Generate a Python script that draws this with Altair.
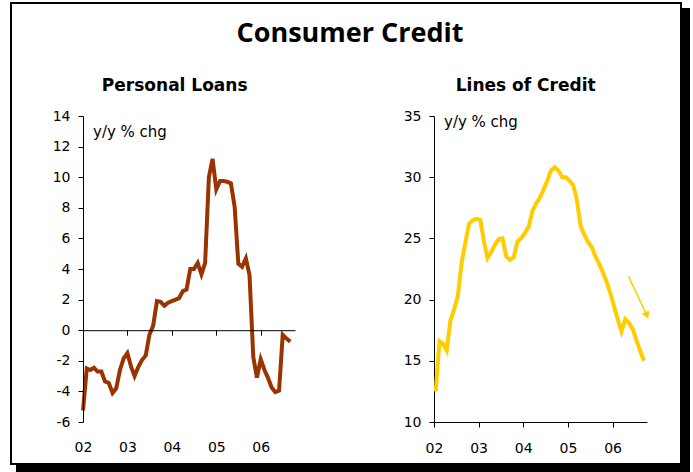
import altair as alt
import pandas as pd

# ---------------- data ----------------
loan_months = pd.date_range("2002-01-01", periods=57, freq="MS")
loc_months = loan_months + pd.Timedelta(days=14)

personal_loans = [
    -5.25, -2.5, -2.6, -2.45, -2.7, -2.7, -3.35, -3.45, -4.1, -3.8,
    -2.6, -1.85, -1.5, -2.4, -3.0, -2.4, -1.95, -1.65, -0.3, 0.3,
    1.9, 1.85, 1.6, 1.8, 1.9, 2.0, 2.1, 2.55, 2.65, 4.0,
    4.0, 4.4, 3.65, 4.4, 10.0, 11.2, 9.2, 9.75, 9.75, 9.7,
    9.6, 8.05, 4.35, 4.15, 4.7, 3.6, -1.75, -3.1, -1.9, -2.6,
    -3.1, -3.75, -4.05, -3.95, -0.3, -0.55, -0.75,
]

lines_of_credit = [
    12.5, 16.6, 16.4, 15.85, 18.3, 19.2, 20.3, 23.0, 24.7, 26.2,
    26.5, 26.6, 26.5, 24.7, 23.4, 23.9, 24.5, 24.95, 25.0, 23.55,
    23.25, 23.45, 24.75, 25.0, 25.45, 25.95, 27.2, 27.85, 28.3, 28.95,
    29.7, 30.55, 30.8, 30.55, 30.0, 30.0, 29.7, 29.3, 28.15, 26.0,
    25.3, 24.7, 24.3, 23.5, 22.9, 22.2, 21.4, 20.5, 19.4, 18.3,
    17.4, 18.4, 18.1, 17.6, 16.7, 15.8, 15.0,
]

year_ticks = [2002, 2003, 2004, 2005, 2006]
loan_ticks = [-6, -4, -2, 0, 2, 4, 6, 8, 10, 12, 14]
loc_ticks = [10, 15, 20, 25, 30, 35]

main_title = "Consumer Credit"
left_title = "Personal Loans"
right_title = "Lines of Credit"
unit_label = "y/y % chg"

arrow = pd.DataFrame({
    "x": ["2006-05-11"], "y": [21.9],
    "x2": ["2006-10-05"], "y2": [18.8],
})

# ---------------- styling ----------------
BROWN = "#993300"
YELLOW = "#FFCC00"
FONT = "DejaVu Sans"

left_df = pd.DataFrame({"month": loan_months, "value": personal_loans})
right_df = pd.DataFrame({"month": loc_months, "value": lines_of_credit})

x_domain = [alt.DateTime(year=2002, month=1, date=1),
            alt.DateTime(year=2006, month=10, date=10)]
x_values = [alt.DateTime(year=y, month=1, date=1) for y in year_ticks]

one = alt.Data(values=[{}])

W_L, W_R, H = 212, 213, 306

# ---- decoration (frame with shadow, titles), placed in the left panel ----
bg = alt.Chart(one).mark_rect(fill="white").encode(
    x=alt.value(-83), x2=alt.value(610), y=alt.value(-116), y2=alt.value(356))
shadow = alt.Chart(one).mark_rect(fill="black").encode(
    x=alt.value(-67), x2=alt.value(607), y=alt.value(-108), y2=alt.value(356))
frame = alt.Chart(one).mark_rect(fill="white", stroke="black", strokeWidth=2).encode(
    x=alt.value(-72), x2=alt.value(598), y=alt.value(-113), y2=alt.value(348))
title_txt = alt.Chart(one).mark_text(
    text=main_title, font="Open Sans", fontSize=27, fontWeight="bold",
    align="center", baseline="alphabetic", color="black").encode(
    x=alt.value(267), y=alt.value(-74.3))


def subtitle(txt):
    return alt.Chart(one).mark_text(
        text=txt, font=FONT, fontSize=17, fontWeight="bold",
        align="center", baseline="alphabetic", color="black").encode(
        x=alt.value(91.7), y=alt.value(-25.3))


def unit(ypos):
    return alt.Chart(one).mark_text(
        text=unit_label, font=FONT, fontSize=15, align="left",
        baseline="middle", color="black").encode(
        x=alt.value(10), y=alt.value(ypos))


left_line = alt.Chart(left_df).mark_line(color=BROWN, strokeWidth=4).encode(
    x=alt.X("month:T", title=None,
            scale=alt.Scale(domain=x_domain),
            axis=alt.Axis(values=x_values, format="%y", offset=-H * 6 / 20,
                          tickSize=5, labelPadding=105, zindex=1,
                          labelAlign="center")),
    y=alt.Y("value:Q", title=None,
            scale=alt.Scale(domain=[-6, 14], nice=False),
            axis=alt.Axis(values=loan_ticks, tickSize=5, labelPadding=8,
                          zindex=1, labelExpr="'' + datum.value")),
)

left = alt.layer(
    bg, shadow, frame, title_txt, subtitle(left_title), unit(15.7), left_line
).properties(width=W_L, height=H)

right_line = alt.Chart(right_df).mark_line(color=YELLOW, strokeWidth=4).encode(
    x=alt.X("month:T", title=None,
            scale=alt.Scale(domain=x_domain),
            axis=alt.Axis(values=x_values, format="%y", tickSize=5,
                          labelPadding=14, labelAlign="center")),
    y=alt.Y("value:Q", title=None,
            scale=alt.Scale(domain=[10, 35], nice=False),
            axis=alt.Axis(values=loc_ticks, tickSize=5, labelPadding=8)),
)

arrow_line = alt.Chart(arrow).mark_rule(color=YELLOW, strokeWidth=1.5).encode(
    x="x:T", y="y:Q", x2="x2:T", y2="y2:Q")
arrow_head = alt.Chart(arrow).mark_point(
    shape="triangle", filled=True, size=70, angle=155, color=YELLOW, opacity=1
).encode(x="x2:T", y="y2:Q")

right = alt.layer(
    subtitle(right_title), unit(5.7), right_line, arrow_line, arrow_head
).properties(width=W_R, height=H)

chart = alt.hconcat(left, right, spacing=139, bounds="flush").properties(
    padding=0, background="white"
).configure_view(stroke=None).configure_axis(
    grid=False, domainColor="black", tickColor="black", labelColor="black",
    labelFont=FONT, labelFontSize=14, domainWidth=1, tickWidth=1,
)

chart.save("out.html", embed_options={"renderer": "svg", "actions": False})
